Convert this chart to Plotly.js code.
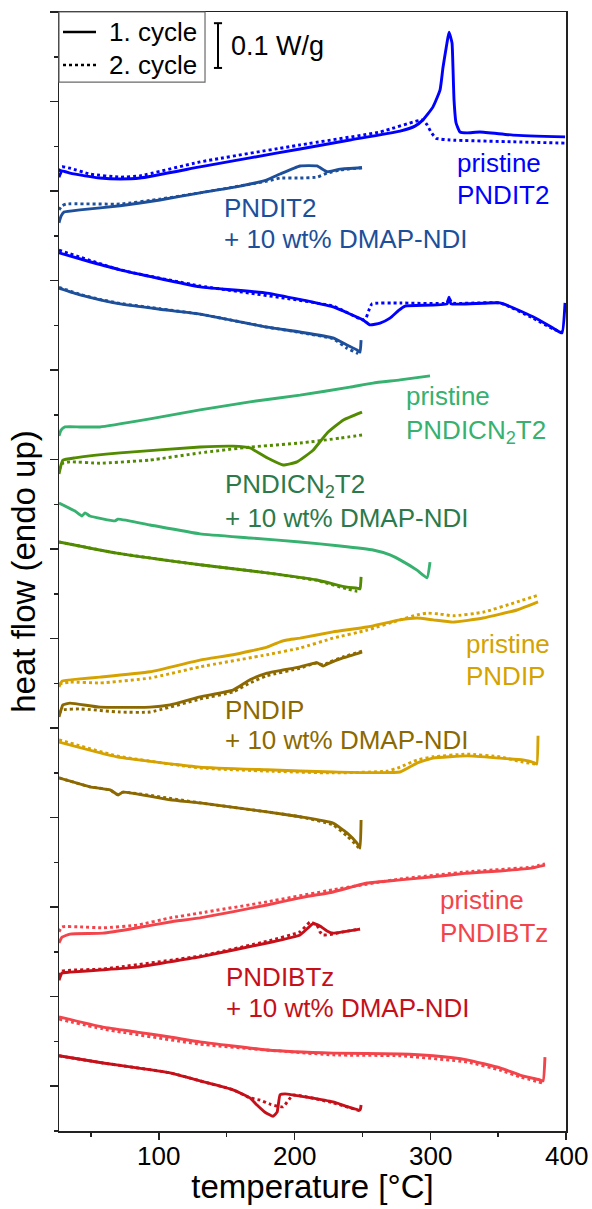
<!DOCTYPE html>
<html>
<head>
<meta charset="utf-8">
<script src="https://cdn.plot.ly/plotly-3.0.1.min.js"></script>
<style>
  html, body { margin: 0; padding: 0; background: #fff; }
  #chart { width: 592px; height: 1209px; }
</style>
</head>
<body>
<div id="chart"></div>
<script>
// ---------- DATA (temperature in °C, heat flow in W/g, curves stacked with offsets) ----------
// pristine PNDIT2
const T_pNDIT2_heat1 = [26.4, 28.6, 34.5, 45.6, 56.6, 71.4, 86.1, 130.3, 167.1, 204.0, 240.8, 277.7, 288.7, 294.6, 302.0, 307.2, 309.4, 312.3, 313.8, 316.0, 316.7, 317.5, 319.0, 321.9, 327.1, 336.6, 361.0, 399.3];
const HF_pNDIT2_heat1 = [2.031, 2.045, 2.040, 2.034, 2.029, 2.027, 2.029, 2.054, 2.074, 2.094, 2.114, 2.134, 2.145, 2.159, 2.188, 2.226, 2.277, 2.331, 2.355, 2.331, 2.277, 2.203, 2.152, 2.132, 2.130, 2.132, 2.125, 2.121];
const T_pNDIT2_heat2 = [26.4, 28.6, 34.5, 49.2, 71.4, 86.1, 130.3, 204.0, 263.0, 294.6, 297.6, 300.5, 304.2, 314.5, 361.0, 399.3];
const HF_pNDIT2_heat2 = [2.043, 2.054, 2.051, 2.038, 2.031, 2.034, 2.065, 2.103, 2.132, 2.159, 2.148, 2.132, 2.118, 2.114, 2.110, 2.107];
const T_pNDIT2_cool1 = [26.4, 49.2, 71.4, 130.3, 179.7, 228.3, 250.4, 255.6, 263.0, 270.3, 276.2, 281.4, 312.3, 313.8, 315.3, 351.4, 375.7, 390.4, 397.0, 399.3];
const HF_pNDIT2_cool1 = [1.862, 1.842, 1.824, 1.786, 1.772, 1.741, 1.712, 1.701, 1.705, 1.716, 1.732, 1.743, 1.748, 1.763, 1.748, 1.750, 1.719, 1.694, 1.683, 1.750];
const T_pNDIT2_cool2 = [26.4, 71.4, 130.3, 228.3, 250.4, 252.6, 254.8, 257.0, 277.7, 312.3, 313.8, 316.0, 351.4, 375.7, 390.4, 397.0];
const HF_pNDIT2_cool2 = [1.868, 1.824, 1.788, 1.743, 1.712, 1.716, 1.734, 1.748, 1.750, 1.750, 1.761, 1.750, 1.750, 1.716, 1.692, 1.685];

// PNDIT2 + 10 wt% DMAP-NDI
const T_cNDIT2_heat1 = [26.4, 27.9, 30.1, 41.9, 71.4, 100.8, 130.3, 159.8, 179.7, 189.3, 204.0, 216.5, 223.9, 233.5, 249.7];
const HF_cNDIT2_heat1 = [1.929, 1.944, 1.953, 1.958, 1.967, 1.980, 1.996, 2.011, 2.025, 2.038, 2.056, 2.056, 2.043, 2.049, 2.052];
const T_cNDIT2_heat2 = [26.4, 28.6, 31.6, 71.4, 100.8, 130.3, 179.7, 189.3, 204.0, 216.5, 223.9, 233.5, 249.7];
const HF_cNDIT2_heat2 = [1.958, 1.967, 1.971, 1.971, 1.982, 1.996, 2.022, 2.029, 2.029, 2.031, 2.040, 2.047, 2.052];
const T_cNDIT2_cool1 = [26.4, 41.9, 56.6, 71.4, 100.8, 130.3, 179.7, 204.0, 228.3, 238.6, 246.0, 248.2, 249.0];
const HF_cNDIT2_cool1 = [1.783, 1.768, 1.757, 1.748, 1.736, 1.725, 1.696, 1.685, 1.672, 1.656, 1.645, 1.640, 1.667];
const T_cNDIT2_cool2 = [26.4, 41.9, 56.6, 71.4, 100.8, 130.3, 179.7, 204.0, 228.3, 238.6, 246.0, 248.2];
const HF_cNDIT2_cool2 = [1.785, 1.769, 1.758, 1.749, 1.737, 1.725, 1.696, 1.684, 1.670, 1.649, 1.638, 1.634];

// pristine PNDICN2T2
const T_pCN_heat1 = [26.4, 27.9, 30.8, 41.9, 56.6, 93.5, 130.3, 167.1, 204.0, 240.8, 257.8, 277.7, 299.8];
const HF_pCN_heat1 = [1.453, 1.466, 1.473, 1.473, 1.473, 1.491, 1.511, 1.529, 1.544, 1.562, 1.571, 1.578, 1.587];
const T_pCN_cool1 = [26.4, 38.2, 43.3, 45.6, 49.2, 67.7, 69.9, 93.5, 130.3, 167.1, 204.0, 233.5, 257.8, 270.3, 277.7, 290.2, 297.6, 299.8];
const HF_pCN_cool1 = [1.303, 1.285, 1.274, 1.281, 1.274, 1.263, 1.267, 1.254, 1.234, 1.225, 1.216, 1.207, 1.198, 1.187, 1.176, 1.153, 1.136, 1.171];

// PNDICN2T2 + 10 wt% DMAP-NDI
const T_cCN_heat1 = [26.4, 27.9, 29.3, 38.2, 71.4, 130.3, 154.6, 167.1, 179.7, 191.5, 201.8, 213.6, 223.9, 235.7, 249.7];
const HF_cCN_heat1 = [1.368, 1.388, 1.399, 1.404, 1.415, 1.428, 1.430, 1.426, 1.404, 1.388, 1.395, 1.421, 1.459, 1.488, 1.506];
const T_cCN_heat2 = [26.4, 29.3, 34.5, 56.6, 93.5, 130.3, 167.1, 204.0, 233.5, 249.7];
const HF_cCN_heat2 = [1.377, 1.392, 1.395, 1.392, 1.399, 1.415, 1.428, 1.437, 1.448, 1.455];
const T_cCN_cool1 = [26.4, 69.1, 130.3, 179.7, 216.5, 238.6, 246.0, 248.2, 249.0];
const HF_cCN_cool1 = [1.216, 1.191, 1.165, 1.147, 1.131, 1.115, 1.113, 1.111, 1.138];
const T_cCN_cool2 = [26.4, 69.1, 130.3, 179.7, 216.5, 238.6, 246.0, 248.2];
const HF_cCN_cool2 = [1.216, 1.191, 1.165, 1.147, 1.130, 1.111, 1.106, 1.106];

// pristine PNDIP
const T_pIP_heat1 = [26.4, 28.6, 41.9, 56.6, 93.5, 130.3, 154.6, 179.7, 189.3, 194.4, 204.0, 228.3, 253.4, 277.7, 290.2, 302.0, 316.7, 338.9, 363.9, 379.4];
const HF_pIP_heat1 = [0.892, 0.905, 0.910, 0.914, 0.926, 0.952, 0.964, 0.981, 0.993, 0.997, 1.001, 1.015, 1.026, 1.042, 1.046, 1.042, 1.037, 1.046, 1.064, 1.082];
const T_pIP_heat2 = [26.4, 34.5, 56.6, 93.5, 130.3, 179.7, 204.0, 228.3, 253.4, 277.7, 290.2, 297.6, 307.2, 316.7, 338.9, 363.9, 379.4];
const HF_pIP_heat2 = [0.899, 0.903, 0.901, 0.912, 0.937, 0.964, 0.979, 1.001, 1.019, 1.042, 1.053, 1.057, 1.055, 1.051, 1.059, 1.082, 1.097];
const T_pIP_cool1 = [26.4, 69.1, 130.3, 179.7, 228.3, 277.7, 290.2, 302.0, 327.1, 351.4, 368.3, 377.2, 378.5, 379.4];
const HF_pIP_cool1 = [0.769, 0.736, 0.713, 0.707, 0.702, 0.702, 0.722, 0.733, 0.738, 0.733, 0.729, 0.722, 0.720, 0.783];
const T_pIP_cool2 = [26.4, 69.1, 130.3, 179.7, 228.3, 268.1, 277.7, 290.2, 302.0, 327.1, 351.4, 368.3, 377.2];
const HF_pIP_cool2 = [0.774, 0.738, 0.711, 0.704, 0.700, 0.704, 0.713, 0.729, 0.736, 0.742, 0.736, 0.724, 0.720];

// PNDIP + 10 wt% DMAP-NDI
const T_cIP_heat1 = [26.4, 27.9, 29.3, 34.5, 56.6, 93.5, 108.2, 130.3, 154.6, 167.1, 179.7, 191.5, 204.0, 216.5, 221.0, 226.1, 235.7, 249.7];
const HF_cIP_heat1 = [0.825, 0.841, 0.852, 0.856, 0.847, 0.847, 0.852, 0.870, 0.885, 0.908, 0.923, 0.930, 0.937, 0.946, 0.939, 0.946, 0.957, 0.970];
const T_cIP_heat2 = [26.4, 29.3, 41.9, 71.4, 93.5, 130.3, 154.6, 167.1, 179.7, 204.0, 216.5, 221.0, 226.1, 235.7, 249.7];
const HF_cIP_heat2 = [0.834, 0.841, 0.843, 0.836, 0.836, 0.865, 0.881, 0.901, 0.917, 0.934, 0.946, 0.941, 0.948, 0.959, 0.972];
const T_cIP_cool1 = [26.4, 49.2, 64.0, 67.7, 69.9, 73.6, 108.2, 130.3, 179.7, 204.0, 228.3, 238.6, 246.0, 248.2, 249.0];
const HF_cIP_cool1 = [0.689, 0.669, 0.662, 0.655, 0.651, 0.657, 0.640, 0.633, 0.613, 0.602, 0.588, 0.566, 0.543, 0.532, 0.595];
const T_cIP_cool2 = [26.4, 49.2, 64.0, 69.9, 73.6, 130.3, 179.7, 204.0, 228.3, 238.6, 246.0, 248.2];
const HF_cIP_cool2 = [0.689, 0.669, 0.662, 0.651, 0.657, 0.633, 0.613, 0.602, 0.584, 0.559, 0.537, 0.528];

// pristine PNDIBTz
const T_pBT_heat1 = [26.4, 28.6, 34.5, 58.8, 83.9, 108.2, 130.3, 179.7, 204.0, 228.3, 253.4, 277.7, 302.0, 327.1, 351.4, 375.7, 384.5];
const HF_pBT_heat1 = [0.320, 0.333, 0.340, 0.342, 0.354, 0.367, 0.376, 0.405, 0.421, 0.434, 0.454, 0.461, 0.468, 0.476, 0.481, 0.488, 0.494];
const T_pBT_heat2 = [26.4, 28.6, 41.9, 58.8, 83.9, 108.2, 130.3, 179.7, 228.3, 277.7, 327.1, 375.7, 384.5];
const HF_pBT_heat2 = [0.345, 0.356, 0.356, 0.354, 0.360, 0.376, 0.387, 0.412, 0.439, 0.463, 0.479, 0.490, 0.497];
const T_pBT_cool1 = [26.4, 58.8, 83.9, 108.2, 130.3, 179.7, 228.3, 277.7, 302.0, 327.1, 351.4, 366.1, 380.8, 383.1, 384.5];
const HF_pBT_cool1 = [0.155, 0.132, 0.121, 0.110, 0.099, 0.081, 0.074, 0.072, 0.068, 0.059, 0.041, 0.025, 0.014, 0.012, 0.065];
const T_pBT_cool2 = [26.4, 58.8, 130.3, 228.3, 277.7, 327.1, 351.4, 366.1, 383.1];
const HF_pBT_cool2 = [0.150, 0.128, 0.094, 0.070, 0.068, 0.054, 0.036, 0.021, 0.007];

// PNDIBTz + 10 wt% DMAP-NDI
const T_cBT_heat1 = [26.4, 28.6, 34.5, 58.8, 83.9, 108.2, 130.3, 179.7, 204.0, 213.6, 218.7, 223.9, 228.3, 235.7, 248.2];
const HF_cBT_heat1 = [0.237, 0.253, 0.255, 0.260, 0.266, 0.278, 0.289, 0.320, 0.338, 0.363, 0.358, 0.347, 0.342, 0.345, 0.351];
const T_cBT_heat2 = [26.4, 28.6, 58.8, 130.3, 179.7, 204.0, 211.4, 216.5, 218.7, 221.0, 228.3, 235.7, 248.2];
const HF_cBT_heat2 = [0.246, 0.257, 0.262, 0.291, 0.324, 0.345, 0.367, 0.360, 0.345, 0.338, 0.340, 0.345, 0.351];
const T_cBT_cool1 = [26.4, 58.8, 83.9, 108.2, 130.3, 154.6, 167.1, 172.3, 178.2, 184.1, 187.1, 189.3, 193.0, 228.3, 248.2, 249.0];
const HF_cBT_cool1 = [0.068, 0.052, 0.041, 0.030, 0.012, -0.008, -0.026, -0.042, -0.058, -0.067, -0.058, -0.019, -0.017, -0.035, -0.053, -0.042];
const T_cBT_cool2 = [26.4, 58.8, 108.2, 130.3, 154.6, 167.1, 174.5, 181.9, 191.5, 198.8, 228.3, 248.2];
const HF_cBT_cool2 = [0.068, 0.052, 0.030, 0.012, -0.008, -0.026, -0.031, -0.040, -0.046, -0.020, -0.037, -0.055];

// axis ticks and labels
const xTickVals = [100, 200, 300, 400];
const xTickText = ['100', '200', '300', '400'];
const legendNames = ['1. cycle', '2. cycle'];
const scaleBarLabel = '0.1 W/g';
const scaleBarSize = 0.1;

// ---------- STYLE ----------
const FONT = 'Liberation Sans, Arial, Helvetica, sans-serif';
const COL = {
  pNDIT2: '#0000ff', cNDIT2: '#1d4f9a',
  pCN: '#36b16f', cCN: '#528a00', cCNtext: '#2c7a4a',
  pIP: '#d5a200', cIP: '#8c6900',
  pBT: '#f2444a', cBT: '#c5101a'
};
const LW = 2.9;

const curves = [
  [T_pNDIT2_heat1, HF_pNDIT2_heat1, COL.pNDIT2, 'solid'],
  [T_pNDIT2_heat2, HF_pNDIT2_heat2, COL.pNDIT2, 'dot'],
  [T_pNDIT2_cool1, HF_pNDIT2_cool1, COL.pNDIT2, 'solid'],
  [T_pNDIT2_cool2, HF_pNDIT2_cool2, COL.pNDIT2, 'dot'],
  [T_cNDIT2_heat1, HF_cNDIT2_heat1, COL.cNDIT2, 'solid'],
  [T_cNDIT2_heat2, HF_cNDIT2_heat2, COL.cNDIT2, 'dot'],
  [T_cNDIT2_cool1, HF_cNDIT2_cool1, COL.cNDIT2, 'solid'],
  [T_cNDIT2_cool2, HF_cNDIT2_cool2, COL.cNDIT2, 'dot'],
  [T_pCN_heat1, HF_pCN_heat1, COL.pCN, 'solid'],
  [T_pCN_cool1, HF_pCN_cool1, COL.pCN, 'solid'],
  [T_cCN_heat1, HF_cCN_heat1, COL.cCN, 'solid'],
  [T_cCN_heat2, HF_cCN_heat2, COL.cCN, 'dot'],
  [T_cCN_cool1, HF_cCN_cool1, COL.cCN, 'solid'],
  [T_cCN_cool2, HF_cCN_cool2, COL.cCN, 'dot'],
  [T_pIP_heat1, HF_pIP_heat1, COL.pIP, 'solid'],
  [T_pIP_heat2, HF_pIP_heat2, COL.pIP, 'dot'],
  [T_pIP_cool1, HF_pIP_cool1, COL.pIP, 'solid'],
  [T_pIP_cool2, HF_pIP_cool2, COL.pIP, 'dot'],
  [T_cIP_heat1, HF_cIP_heat1, COL.cIP, 'solid'],
  [T_cIP_heat2, HF_cIP_heat2, COL.cIP, 'dot'],
  [T_cIP_cool1, HF_cIP_cool1, COL.cIP, 'solid'],
  [T_cIP_cool2, HF_cIP_cool2, COL.cIP, 'dot'],
  [T_pBT_heat1, HF_pBT_heat1, COL.pBT, 'solid'],
  [T_pBT_heat2, HF_pBT_heat2, COL.pBT, 'dot'],
  [T_pBT_cool1, HF_pBT_cool1, COL.pBT, 'solid'],
  [T_pBT_cool2, HF_pBT_cool2, COL.pBT, 'dot'],
  [T_cBT_heat1, HF_cBT_heat1, COL.cBT, 'solid'],
  [T_cBT_heat2, HF_cBT_heat2, COL.cBT, 'dot'],
  [T_cBT_cool1, HF_cBT_cool1, COL.cBT, 'solid'],
  [T_cBT_cool2, HF_cBT_cool2, COL.cBT, 'dot']
];

const traces = curves.map(([x, y, color, dash]) => ({
  type: 'scatter', mode: 'lines', x: x, y: y,
  line: { color: color, width: LW, dash: dash, shape: 'spline', smoothing: 0.4 },
  showlegend: false, hoverinfo: 'skip'
}));

// labels: [text, paper x (left), paper y (middle), color]
const labels = [
  ['pristine', 0.781, 0.8651, COL.pNDIT2],
  ['PNDIT2', 0.781, 0.8365, COL.pNDIT2],
  ['PNDIT2', 0.3215, 0.8248, COL.cNDIT2],
  ['+ 10 wt% DMAP-NDI', 0.3215, 0.7971, COL.cNDIT2],
  ['pristine', 0.6805, 0.6568, COL.pCN],
  ['PNDICN<sub>2</sub>T2', 0.6805, 0.6253, COL.pCN],
  ['PNDICN<sub>2</sub>T2', 0.3235, 0.5771, COL.cCNtext],
  ['+ 10 wt% DMAP-NDI', 0.3235, 0.5478, COL.cCNtext],
  ['pristine', 0.7988, 0.4352, COL.pIP],
  ['PNDIP', 0.7988, 0.4066, COL.pIP],
  ['PNDIP', 0.3235, 0.3762, COL.cIP],
  ['+ 10 wt% DMAP-NDI', 0.3235, 0.3494, COL.cIP],
  ['pristine', 0.7475, 0.2064, COL.pBT],
  ['PNDIBTz', 0.7475, 0.1769, COL.pBT],
  ['PNDIBTz', 0.3254, 0.1376, COL.cBT],
  ['+ 10 wt% DMAP-NDI', 0.3254, 0.1099, COL.cBT]
];

const annotations = labels.map(([t, x, y, c]) => ({
  text: t, xref: 'paper', yref: 'paper', x: x, y: y,
  xanchor: 'left', yanchor: 'middle', showarrow: false,
  font: { family: FONT, size: 26, color: c }
}));

// x tick labels (placed as text at the axis tick values)
xTickVals.forEach((v, i) => {
  annotations.push({ text: xTickText[i], xref: 'x', yref: 'paper', x: v, y: -0.0223,
    xanchor: 'center', yanchor: 'middle', showarrow: false,
    font: { family: FONT, size: 26, color: '#000' } });
});

// legend box (drawn manually to match the reference placement)
const legendRows = [
  [legendNames[0], 'solid', 0.9821],
  [legendNames[1], 'dot', 0.9526]
];
const shapes = [
  { type: 'rect', xref: 'paper', yref: 'paper', x0: 0, x1: 0.288, y0: 0.9374, y1: 1.0,
    line: { color: '#6a6a6a', width: 1.2 }, fillcolor: '#ffffff' }
];
legendRows.forEach(([name, dash, y]) => {
  shapes.push({ type: 'line', xref: 'paper', yref: 'paper', x0: 0.0079, x1: 0.073, y0: y, y1: y,
    line: { color: '#000', width: 2.6, dash: dash } });
  annotations.push({ text: name, xref: 'paper', yref: 'paper', x: 0.0946, y: y,
    xanchor: 'left', yanchor: 'middle', showarrow: false,
    font: { family: FONT, size: 26, color: '#000' } });
});

// scale bar
const barTop = 2.375;
const barX = 0.3136;
annotations.push({
  text: scaleBarLabel, xref: 'paper', yref: 'y', x: 0.3353, y: barTop - scaleBarSize / 2,
  xanchor: 'left', yanchor: 'middle', showarrow: false,
  font: { family: FONT, size: 27, color: '#000' }
});
shapes.push(
  { type: 'line', xref: 'paper', yref: 'y', x0: barX, x1: barX, y0: barTop - scaleBarSize, y1: barTop, line: { color: '#000', width: 2 } },
  { type: 'line', xref: 'paper', yref: 'y', x0: barX - 0.008, x1: barX + 0.008, y0: barTop, y1: barTop, line: { color: '#000', width: 2 } },
  { type: 'line', xref: 'paper', yref: 'y', x0: barX - 0.008, x1: barX + 0.008, y0: barTop - scaleBarSize, y1: barTop - scaleBarSize, line: { color: '#000', width: 2 } }
);

const axisColor = '#222';
const layout = {
  width: 592, height: 1209,
  margin: { l: 59, r: 26, t: 12, b: 78, pad: 0 },
  paper_bgcolor: '#fff', plot_bgcolor: '#fff',
  font: { family: FONT, color: '#000' },
  showlegend: false,
  xaxis: {
    range: [26.4, 400], showgrid: false, zeroline: false,
    tickmode: 'array', tickvals: xTickVals, showticklabels: false,
    ticks: 'outside', ticklen: 7, tickwidth: 1.5, tickcolor: axisColor,
    minor: { dtick: 50, tick0: 0, ticks: 'outside', ticklen: 4, tickwidth: 1.5, tickcolor: axisColor, showgrid: false },
    showline: true, linecolor: axisColor, linewidth: 1.5, mirror: true,
    title: { text: 'temperature [°C]', font: { family: FONT, size: 33, color: '#000' }, standoff: 36 },
    automargin: false
  },
  yaxis: {
    range: [-0.1, 2.4], showgrid: false, zeroline: false,
    tick0: 0, dtick: 0.2, showticklabels: false,
    ticks: 'outside', ticklen: 8, tickwidth: 1.5, tickcolor: axisColor,
    minor: { dtick: 0.1, tick0: 0, ticks: 'outside', ticklen: 4, tickwidth: 1.5, tickcolor: axisColor, showgrid: false },
    showline: true, linecolor: axisColor, linewidth: 1.5, mirror: true,
    title: { text: 'heat flow (endo up)', font: { family: FONT, size: 33, color: '#000' }, standoff: 4 },
    automargin: false
  },
  annotations: annotations,
  shapes: shapes
};

Plotly.newPlot('chart', traces, layout, { displayModeBar: false, staticPlot: true });
</script>
</body>
</html>
